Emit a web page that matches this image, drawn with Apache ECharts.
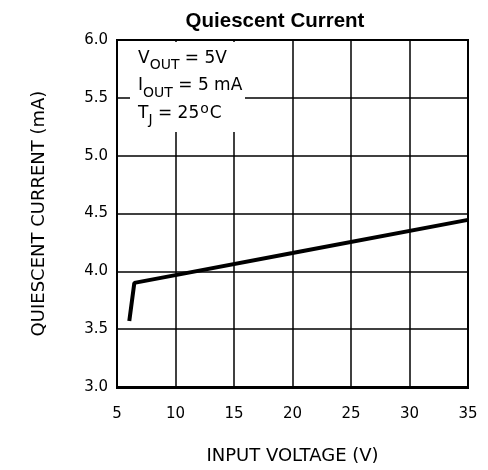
<!DOCTYPE html>
<html>
<head>
<meta charset="utf-8">
<script src="https://cdn.jsdelivr.net/npm/echarts@6/dist/echarts.min.js"></script>
<style>html,body{margin:0;padding:0;background:#fff}#c{width:488px;height:470px}</style>
</head>
<body>
<div id="c"></div>
<script>
var inputVoltage = [6.05, 6.48, 10, 20, 35];
var quiescentCurrent = [3.57, 3.90, 3.967, 4.158, 4.445];
var xTicks = [5, 10, 15, 20, 25, 30, 35];
var yTicks = [3.0, 3.5, 4.0, 4.5, 5.0, 5.5, 6.0];

var FONT = 'DejaVu Sans';
var chart = echarts.init(document.getElementById('c'), null, {renderer: 'canvas'});
var data = inputVoltage.map(function (v, i) { return [v, quiescentCurrent[i]]; });
var rich = {
  a: {fontFamily: FONT, fontSize: 17, fill: '#000', lineHeight: 20},
  s: {fontFamily: FONT, fontSize: 14, fill: '#000', padding: [14, 0, 0, 0], lineHeight: 20},
  d: {fontFamily: FONT, fontSize: 14, fill: '#000', padding: [0, 1, 8, 1], lineHeight: 20}
};

chart.setOption({
  animation: false,
  backgroundColor: '#fff',
  grid: {left: 117, right: 20, top: 40, bottom: 82, show: false},
  xAxis: {
    type: 'value', min: 5, max: 35, interval: 5,
    name: 'INPUT VOLTAGE (V)', nameLocation: 'middle', nameGap: 60,
    nameTextStyle: {fontFamily: FONT, fontSize: 18, color: '#000'},
    axisLine: {show: true, lineStyle: {color: '#000', width: 2}},
    axisTick: {show: false},
    axisLabel: {fontFamily: FONT, fontSize: 15, color: '#000', margin: 20,
      formatter: function (v) { return xTicks.indexOf(v) >= 0 ? String(v) : ''; }},
    splitLine: {show: true, lineStyle: {color: '#000', width: 1.5}}
  },
  yAxis: {
    type: 'value', min: 3, max: 6, interval: 0.5,
    name: 'QUIESCENT CURRENT (mA)', nameLocation: 'middle', nameGap: 69,
    nameTextStyle: {fontFamily: FONT, fontSize: 18, color: '#000'},
    axisLine: {show: true, lineStyle: {color: '#000', width: 2}},
    axisTick: {show: false},
    axisLabel: {fontFamily: FONT, fontSize: 15, color: '#000', margin: 9,
      formatter: function (v) {
        var t = yTicks.filter(function (y) { return Math.abs(y - v) < 1e-6; });
        return t.length ? t[0].toFixed(1) : '';
      }},
    splitLine: {show: true, lineStyle: {color: '#000', width: 1.5}}
  },
  graphic: [
    {type: 'text', x: 275, y: 21, z: 102,
      style: {text: 'Quiescent Current', fontFamily: 'Liberation Sans', fontWeight: 'bold', fontSize: 20.5, fill: '#000', align: 'center', verticalAlign: 'middle'}},
    {type: 'rect', shape: {x: 130, y: 42, width: 115, height: 90}, style: {fill: '#fff'}, z: 100},
    {type: 'rect', shape: {x: 117, y: 40, width: 351, height: 348}, style: {fill: 'none', stroke: '#000', lineWidth: 2}, z: 101},
    {type: 'text', x: 138, y: 58.5, z: 102,
      style: {text: '{a|V}{s|OUT}{a| = 5V}', rich: rich, verticalAlign: 'middle'}},
    {type: 'text', x: 138, y: 86, z: 102,
      style: {text: '{a|I}{s|OUT}{a| = 5 mA}', rich: rich, verticalAlign: 'middle'}},
    {type: 'text', x: 138, y: 113.5, z: 102,
      style: {text: '{a|T}{s|J}{a| = 25}{d|o}{a|C}', rich: rich, verticalAlign: 'middle'}}
  ],
  series: [{
    type: 'line', data: data, symbol: 'none', z: 50,
    lineStyle: {color: '#000', width: 4}
  }]
});
</script>
</body>
</html>
